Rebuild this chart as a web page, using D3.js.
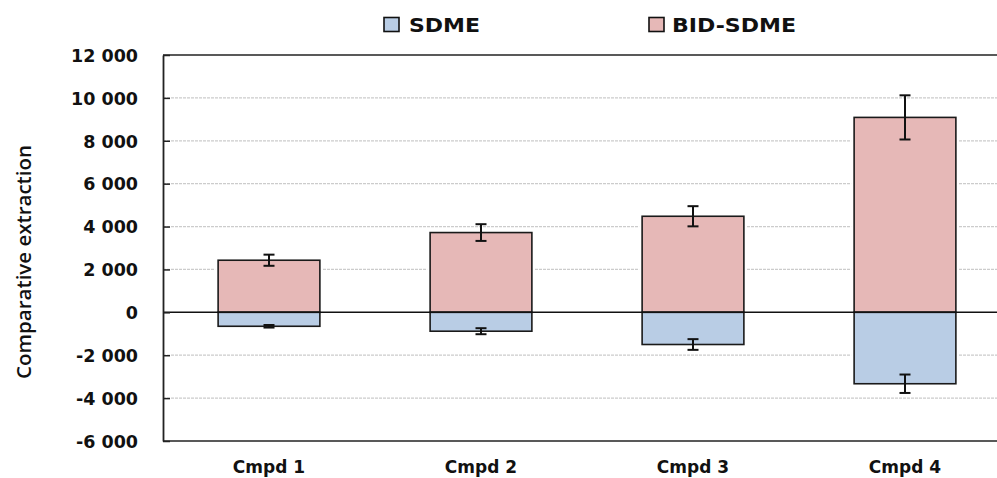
<!DOCTYPE html>
<html>
<head>
<meta charset="utf-8">
<script src="https://cdn.jsdelivr.net/npm/d3@7"></script>
<style>
html,body{margin:0;padding:0;background:#fff;}
svg{display:block;}
</style>
</head>
<body>
<svg id="chart" width="997" height="478"></svg>
<script>
const categories = ["Cmpd 1", "Cmpd 2", "Cmpd 3", "Cmpd 4"];
const seriesNames = ["SDME", "BID-SDME"];
const sdmeValues = [-650, -880, -1500, -3330];
const sdmeErrors = [60, 140, 250, 430];
const bidValues = [2430, 3720, 4480, 9090];
const bidErrors = [260, 390, 470, 1030];
const yTicks = [-6000, -4000, -2000, 0, 2000, 4000, 6000, 8000, 10000, 12000];
const yTitle = "Comparative extraction";

(function () {
const colors = {"SDME": "#b9cde5", "BID-SDME": "#e6b8b7"};
const svg = d3.select("#chart");
const pl = 163, pr = 1011, pt = 55, pb = 441;

const x = d3.scaleBand().domain(categories).range([pl, pr]).paddingInner(0.52).paddingOuter(0.26);
const y = d3.scaleLinear().domain([-6000, 12000]).range([pb, pt]);

const loc = d3.formatLocale({decimal: ".", thousands: " ", grouping: [3], currency: ["", ""], minus: "-"});
const fmt = loc.format(",d");

// gridlines
svg.append("g").selectAll("line").data(yTicks.filter(t => t !== 0 && t !== -6000 && t !== 12000)).join("line")
  .attr("x1", pl).attr("x2", 997)
  .attr("y1", d => y(d)).attr("y2", d => y(d))
  .attr("stroke", "#cccccc").attr("stroke-width", 1.3).attr("stroke-dasharray", "3,1");

// frame top and bottom
svg.append("line").attr("x1", pl).attr("x2", 997).attr("y1", pt).attr("y2", pt)
  .attr("stroke", "#222").attr("stroke-width", 1.5);
svg.append("line").attr("x1", pl).attr("x2", 997).attr("y1", pb).attr("y2", pb)
  .attr("stroke", "#222").attr("stroke-width", 1.5);

const rows = categories.map((c, i) => ({c, sd: sdmeValues[i], sde: sdmeErrors[i], bid: bidValues[i], bide: bidErrors[i]}));

// white halos
svg.append("g").selectAll("rect").data(rows).join("rect")
  .attr("x", d => x(d.c)).attr("width", x.bandwidth())
  .attr("y", d => y(d.bid)).attr("height", d => y(d.sd) - y(d.bid))
  .attr("fill", "none").attr("stroke", "#fff").attr("stroke-width", 6);

// BID-SDME bars (positive)
svg.append("g").selectAll("rect").data(rows).join("rect")
  .attr("x", d => x(d.c)).attr("width", x.bandwidth())
  .attr("y", d => y(d.bid)).attr("height", d => y(0) - y(d.bid))
  .attr("fill", colors["BID-SDME"]).attr("stroke", "#1a1a1a").attr("stroke-width", 1.6);

// SDME bars (negative)
svg.append("g").selectAll("rect").data(rows).join("rect")
  .attr("x", d => x(d.c)).attr("width", x.bandwidth())
  .attr("y", y(0)).attr("height", d => y(d.sd) - y(0))
  .attr("fill", colors["SDME"]).attr("stroke", "#1a1a1a").attr("stroke-width", 1.6);

// zero line
svg.append("line").attr("x1", pl).attr("x2", 997).attr("y1", y(0)).attr("y2", y(0))
  .attr("stroke", "#111").attr("stroke-width", 1.5);

// error bars
function errBars(vals, errs) {
  const g = svg.append("g").attr("stroke", "#111").attr("stroke-width", 2);
  categories.forEach((c, i) => {
    const cx = x(c) + x.bandwidth() / 2;
    const y1 = y(vals[i] + errs[i]), y2 = y(vals[i] - errs[i]);
    g.append("line").attr("x1", cx).attr("x2", cx).attr("y1", y1).attr("y2", y2);
    g.append("line").attr("x1", cx - 5.5).attr("x2", cx + 5.5).attr("y1", y1).attr("y2", y1);
    g.append("line").attr("x1", cx - 5.5).attr("x2", cx + 5.5).attr("y1", y2).attr("y2", y2);
  });
}
errBars(bidValues, bidErrors);
errBars(sdmeValues, sdmeErrors);

// y axis
const yAxis = d3.axisLeft(y).tickValues(yTicks).tickFormat(fmt).tickSize(-7).tickSizeOuter(0).tickPadding(25);
const ga = svg.append("g").attr("transform", `translate(${pl},0)`).call(yAxis);
ga.select(".domain").attr("stroke", "#222").attr("stroke-width", 1.8);
ga.selectAll(".tick line").attr("stroke", "#222").attr("stroke-width", 1.5);
ga.selectAll(".tick text").attr("font-family", "DejaVu Sans").attr("font-weight", "bold")
  .attr("font-size", "17.5px").attr("fill", "#111").attr("dy", "0.36em");

// x labels
svg.append("g").selectAll("text").data(categories).join("text")
  .attr("x", d => x(d) + x.bandwidth() / 2).attr("y", 473)
  .attr("text-anchor", "middle")
  .attr("font-family", "DejaVu Sans").attr("font-weight", "bold").attr("font-size", "17px")
  .attr("fill", "#111").text(d => d);

// y title
svg.append("text").attr("transform", "translate(31,262) rotate(-90)")
  .attr("text-anchor", "middle")
  .attr("font-family", "Open Sans").attr("font-weight", "600").attr("font-size", "20px")
  .attr("textLength", 234).attr("lengthAdjust", "spacingAndGlyphs")
  .attr("fill", "#111").text(yTitle);

// legend
const legendPos = [{sx: 384, tx: 409, tw: 71}, {sx: 649, tx: 672, tw: 124}];
const lg = svg.append("g");
seriesNames.forEach((s, i) => {
  const p = legendPos[i];
  lg.append("rect").attr("x", p.sx).attr("y", 17.5).attr("width", 15).attr("height", 14)
    .attr("fill", colors[s]).attr("stroke", "#111").attr("stroke-width", 1.6);
  lg.append("text").attr("x", p.tx).attr("y", 32)
    .attr("font-family", "DejaVu Sans").attr("font-weight", "bold").attr("font-size", "20px")
    .attr("textLength", p.tw).attr("lengthAdjust", "spacingAndGlyphs")
    .attr("fill", "#111").text(s);
});
})();
</script>
</body>
</html>
